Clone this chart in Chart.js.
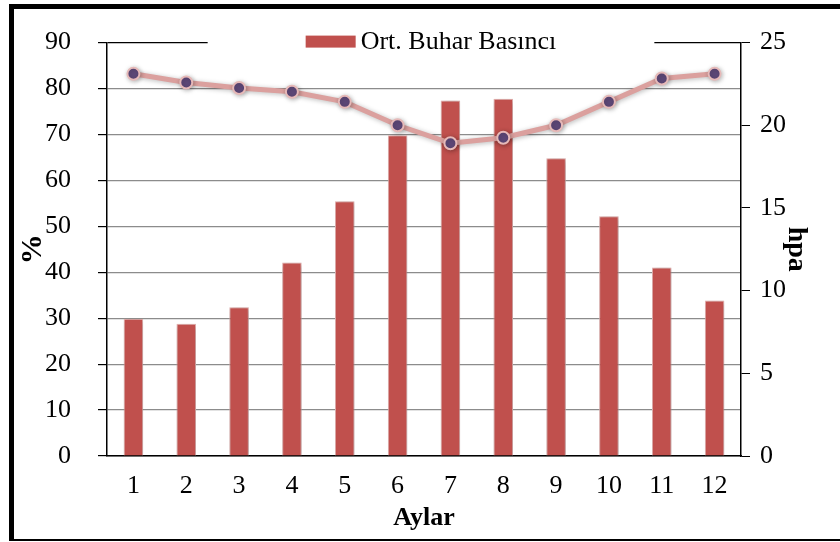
<!DOCTYPE html>
<html>
<head>
<meta charset="utf-8">
<script src="https://cdn.jsdelivr.net/npm/chart.js@4/dist/chart.umd.min.js"></script>
<style>
  html, body { margin: 0; padding: 0; background: #fff; }
  #wrap { position: relative; width: 840px; height: 542px; overflow: hidden; }
  #frame {
    position: absolute; left: 9px; top: 4px; width: 900px; height: 530px;
    border-left: 5px solid #000; border-top: 5px solid #000; border-bottom: 2px solid #000;
  }
  #c { position: absolute; left: 0; top: 0; }
</style>
</head>
<body>
<div id="wrap">
  <div id="frame"></div>
  <canvas id="c" width="840" height="542"></canvas>
</div>
<script>
// data
const months = ["1", "2", "3", "4", "5", "6", "7", "8", "9", "10", "11", "12"];
const vaporPressure = [8.3, 8.0, 9.0, 11.7, 15.4, 19.4, 21.5, 21.6, 18.0, 14.5, 11.4, 9.4]; // hpa
const humidity = [83.2, 81.3, 80.1, 79.3, 77.1, 72.0, 68.1, 69.3, 72.0, 77.1, 82.2, 83.2]; // %
const leftTicks = { min: 0, max: 90, step: 10 };
const rightTicks = { min: 0, max: 25, step: 5 };

const barLabel = "Ort. Buhar Basıncı";
const lineLabel = "Ort. Nispi Nem";

Chart.defaults.font.family = "'Liberation Serif', 'Times New Roman', serif";
Chart.defaults.color = "#000";

// soft drop shadow like the office chart
const shadowPlugin = {
  id: "shadow",
  beforeDatasetsDraw(chart) {
    const ctx = chart.ctx;
    ctx.save();
    ctx.shadowColor = "rgba(0,0,0,0.28)";
    ctx.shadowBlur = 5;
    ctx.shadowOffsetX = 1;
    ctx.shadowOffsetY = 1;
  },
  afterDatasetsDraw(chart) {
    chart.ctx.restore();
  }
};

// legend sitting on the top border of the plot area
const topLegend = {
  id: "topLegend",
  afterDraw(chart) {
    const ctx = chart.ctx;
    const area = chart.chartArea;
    const ds = chart.data.datasets[1];
    ctx.save();
    ctx.font = "26px 'Liberation Serif'";
    const tw = ctx.measureText(ds.label).width;
    const box = 50, gap = 5, pad = 98;
    const total = box + gap + tw;
    const cx = (area.left + area.right) / 2 + 7;
    const x0 = cx - total / 2;
    const y = area.top;
    ctx.fillStyle = "#fff";
    ctx.fillRect(x0 - pad, y - 14, total + pad * 2, 28);
    ctx.fillStyle = ds.backgroundColor;
    ctx.fillRect(x0, y - 7, box, 12);
    ctx.fillStyle = "#000";
    ctx.textBaseline = "middle";
    ctx.textAlign = "left";
    ctx.fillText(ds.label, x0 + box + gap, y);
    ctx.restore();
  }
};

new Chart(document.getElementById("c"), {
  data: {
    labels: months,
    datasets: [
      {
        type: "line",
        label: lineLabel,
        data: humidity,
        yAxisID: "y",
        order: 0,
        borderColor: "#DBA09E",
        borderWidth: 5,
        pointRadius: 6,
        pointBorderWidth: 2,
        pointBackgroundColor: "#5F497A",
        pointBorderColor: "#E6B9B8",
        tension: 0
      },
      {
        type: "bar",
        label: barLabel,
        data: vaporPressure,
        yAxisID: "y1",
        order: 1,
        backgroundColor: "#C0504D",
        borderColor: "#E8B5B4",
        borderWidth: 1,
        barPercentage: 0.37,
        categoryPercentage: 1
      }
    ]
  },
  options: {
    responsive: false,
    animation: false,
    events: [],
    layout: { padding: { top: 42, left: 0, right: 0, bottom: 0 } },
    plugins: {
      legend: { display: false },
      tooltip: { enabled: false }
    },
    scales: {
      x: {
        offset: true,
        grid: { display: false, drawTicks: false },
        border: { display: true, color: "#000", width: 1.5 },
        ticks: { font: { size: 26 }, padding: 15, maxRotation: 0 },
        title: {
          display: true, text: "Aylar",
          font: { size: 26, weight: "bold" },
          padding: { top: 0, bottom: 8 }
        },
        afterFit(s) { s.width = s.width; s.height = 86; }
      },
      y: {
        position: "left",
        min: leftTicks.min, max: leftTicks.max,
        ticks: { stepSize: leftTicks.step, font: { size: 26 }, padding: 27 },
        grid: {
          color: (c) => c.tick && c.tick.value === leftTicks.max ? "#000" : "#8c8c8c",
          lineWidth: 1.2,
          tickColor: "#000",
          tickLength: 9
        },
        border: { display: true, color: "#000", width: 1.5 },
        title: {
          display: true, text: "%",
          font: { size: 30, weight: "bold" },
          padding: { top: 15, bottom: 0 }
        },
        afterFit(s) { s.width = 107; }
      },
      y1: {
        position: "right",
        min: rightTicks.min, max: rightTicks.max,
        ticks: { stepSize: rightTicks.step, font: { size: 26 }, padding: 10 },
        grid: { drawOnChartArea: false, tickColor: "#000", tickLength: 9 },
        border: { display: true, color: "#000", width: 1.5 },
        title: {
          display: true, text: "hpa",
          font: { size: 28, weight: "bold" },
          padding: { top: 27, bottom: 0 }
        },
        afterFit(s) { s.width = 99; }
      }
    }
  },
  plugins: [shadowPlugin, topLegend]
});
</script>
</body>
</html>
